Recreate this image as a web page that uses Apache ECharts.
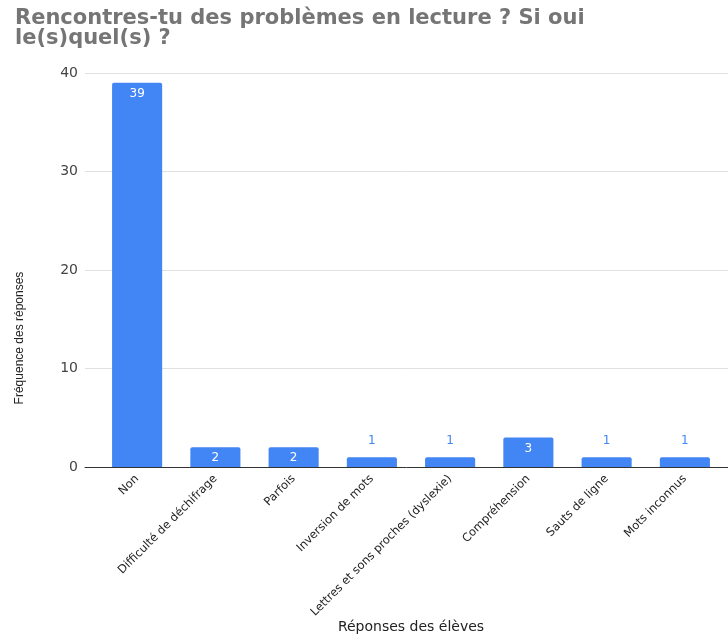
<!DOCTYPE html>
<html>
<head>
<meta charset="utf-8">
<script src="https://cdn.jsdelivr.net/npm/echarts@6/dist/echarts.min.js"></script>
<style>
    html, body { margin: 0; padding: 0; background: #fff; }
    #chart { width: 728px; height: 637px; }
</style>
</head>
<body>
<div id="chart"></div>
<script>
    const categories = ['Non', 'Difficulté de déchifrage', 'Parfois', 'Inversion de mots',
        'Lettres et sons proches (dyslexie)', 'Compréhension', 'Sauts de ligne', 'Mots inconnus'];
    const counts = [39, 2, 2, 1, 1, 3, 1, 1];
    const yTicks = [0, 10, 20, 30, 40];

    const blue = '#4285F4';
    const font = 'DejaVu Sans';
    let chart = echarts.init(document.getElementById('chart'));

    let option = {
        animation: false,
        title: {
            text: 'Rencontres-tu des problèmes en lecture ? Si oui\nle(s)quel(s) ?',
            left: 10,
            top: 4,
            textStyle: {
                fontFamily: font,
                fontSize: 21,
                fontWeight: 'bold',
                color: '#757575',
                lineHeight: 20
            }
        },
        grid: [
            {left: 98, right: 4, top: 73, bottom: 170, outerBoundsMode: 'none'},
            {left: 85, right: 0, top: 73, bottom: 170, outerBoundsMode: 'none'}
        ],
        graphic: [
            {
                type: 'text',
                x: 20,
                y: 338,
                rotation: Math.PI / 2,
                style: {
                    text: 'Fréquence des réponses',
                    fontFamily: 'Liberation Sans',
                    fontSize: 12,
                    fill: '#222',
                    align: 'center',
                    verticalAlign: 'middle'
                }
            },
            {
                type: 'text',
                x: 411,
                y: 627,
                style: {
                    text: 'Réponses des élèves',
                    fontFamily: font,
                    fontSize: 14,
                    fill: '#222',
                    align: 'center',
                    verticalAlign: 'middle'
                }
            }
        ],
        xAxis: [
            {
                type: 'category',
                gridIndex: 0,
                data: categories,
                axisLine: {show: false},
                axisTick: {show: false},
                axisLabel: {
                    rotate: 45,
                    interval: 0,
                    margin: 10,
                    fontFamily: font,
                    fontSize: 11.5,
                    color: '#222'
                }
            },
            {
                type: 'value',
                gridIndex: 1,
                min: 0, max: 1,
                axisLine: {show: true, lineStyle: {color: '#333', width: 1}},
                axisTick: {show: false},
                axisLabel: {show: false},
                splitLine: {show: false}
            }
        ],
        yAxis: [
            {
                type: 'value',
                gridIndex: 0,
                min: 0, max: 40, interval: 10,
                show: false,
                splitLine: {show: false}
            },
            {
                type: 'value',
                gridIndex: 1,
                min: yTicks[0], max: yTicks[yTicks.length - 1], interval: 10,
                axisLine: {show: false},
                axisTick: {show: false},
                axisLabel: {
                    margin: 7,
                    fontFamily: font,
                    fontSize: 14,
                    color: '#444'
                },
                splitLine: {lineStyle: {color: '#e0e0e0'}}
            }
        ],
        series: [{
            type: 'bar',
            xAxisIndex: 0,
            yAxisIndex: 0,
            barWidth: '64%',
            z: 3,
            itemStyle: {color: blue, borderRadius: [2, 2, 0, 0]},
            data: counts.map(v => ({
                value: v,
                label: v >= 2
                    ? {show: true, position: 'insideTop', distance: 5, color: '#fff'}
                    : {show: true, position: 'top', distance: 10, color: blue}
            })),
            label: {fontFamily: font, fontSize: 12}
        }]
    };
    chart.setOption(option);
</script>
</body>
</html>
